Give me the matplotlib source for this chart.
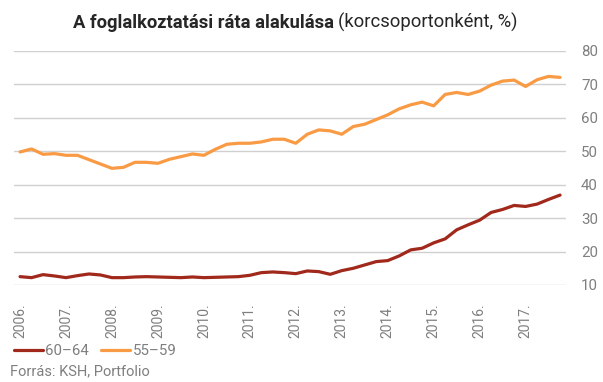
import matplotlib
matplotlib.use("Agg")
import matplotlib.pyplot as plt
import numpy as np

# Quarterly data, 2006 Q1 – 2017 Q4
years = [str(y) + "." for y in range(2006, 2018)]
age_60_64 = [12.5, 12.2, 13.1, 12.7, 12.2, 12.8, 13.3, 13.0,
             12.2, 12.2, 12.4, 12.5, 12.4, 12.3, 12.2, 12.4,
             12.2, 12.3, 12.4, 12.5, 12.9, 13.7, 13.9, 13.7,
             13.4, 14.2, 14.0, 13.2, 14.3, 15.0, 16.0, 17.0,
             17.3, 18.7, 20.5, 21.0, 22.6, 23.8, 26.5, 28.0,
             29.4, 31.7, 32.6, 33.8, 33.5, 34.2, 35.6, 36.9]
age_55_59 = [49.8, 50.7, 49.1, 49.3, 48.8, 48.8, 47.5, 46.2,
             44.9, 45.2, 46.7, 46.7, 46.4, 47.6, 48.4, 49.2,
             48.8, 50.6, 52.1, 52.4, 52.4, 52.8, 53.6, 53.6,
             52.4, 55.1, 56.4, 56.1, 55.1, 57.4, 58.1, 59.5,
             60.9, 62.7, 63.9, 64.7, 63.6, 67.0, 67.6, 67.0,
             68.0, 69.8, 71.0, 71.3, 69.4, 71.4, 72.4, 72.1]
yticks = [10, 20, 30, 40, 50, 60, 70, 80]

FONT = ["Roboto", "DejaVu Sans"]
GRAY = "#7f7f7f"
plt.rcParams["font.family"] = FONT

fig = plt.figure(figsize=(6.03, 3.82), dpi=100)
W, H = 603, 382
ax = fig.add_axes([14.3 / W, (H - 285) / H, 551.5 / W, 234 / H])

x = np.arange(len(age_60_64))
l1, = ax.plot(x, age_60_64, color="#A0291C", lw=2.3, solid_capstyle="round", label="60–64", zorder=3)
l2, = ax.plot(x, age_55_59, color="#F99A44", lw=2.3, solid_capstyle="round", label="55–59", zorder=3)

ax.set_xlim(-0.5, 47.5)
ax.set_ylim(10, 80)
ax.set_yticks(yticks)
ax.yaxis.tick_right()
ax.grid(axis="y", color="#d0d0d0", lw=1)
ax.set_axisbelow(True)
for s in ax.spines.values():
    s.set_visible(False)
ax.tick_params(axis="y", length=0, pad=11, labelsize=10.8, labelcolor=GRAY)
ax.set_xticks(np.arange(0, 48, 4))
ax.set_xticklabels(years, rotation=90, fontsize=10, color=GRAY)
ax.tick_params(axis="x", length=0, pad=13)

leg = fig.legend(handles=[l1, l2], loc="center left", bbox_to_anchor=(14 / W, 1 - 351 / H),
                 ncol=2, frameon=False, fontsize=10.8, handlelength=1.9, handletextpad=0.2,
                 columnspacing=0.8, borderpad=0, borderaxespad=0)
for t in leg.get_texts():
    t.set_color(GRAY)

fig.text(10 / W, 1 - 371 / H, "Forrás: KSH, Portfolio", fontsize=10.5, color=GRAY,
         va="center", ha="left")

t1 = fig.text(73 / W, 1 - 28 / H, "A foglalkoztatási ráta alakulása", fontsize=13.2,
              fontweight="bold", color="#262626", va="baseline", ha="left")
fig.canvas.draw()
bb = t1.get_window_extent()
fig.text(bb.x1 / W + 4 / W, 1 - 28 / H, "(korcsoportonként, %)", fontsize=13.2,
         color="#262626", va="baseline", ha="left")

fig.savefig("out.png", dpi=100)
